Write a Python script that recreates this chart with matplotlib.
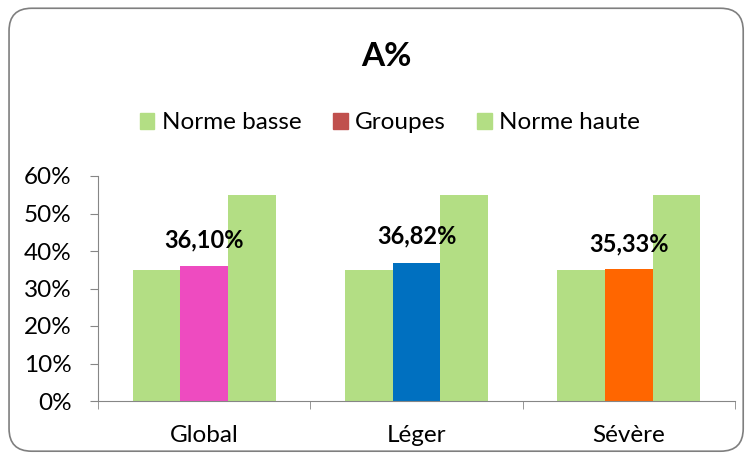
import numpy as np
import matplotlib.pyplot as plt
import matplotlib.patches as mpatches
from matplotlib.patches import FancyBboxPatch

plt.rcParams['font.family'] = ['Lato', 'DejaVu Sans']

categories = ['Global', 'Léger', 'Sévère']
norme_basse = [35, 35, 35]
groupes = [36.10, 36.82, 35.33]
norme_haute = [55, 55, 55]
groupe_colors = ['#EE4BC0', '#0070C0', '#FF6600']
value_labels = ['36,10%', '36,82%', '35,33%']
label_heights = [43, 44, 42]

green = '#B3DE84'
fig = plt.figure(figsize=(7.53, 4.59), dpi=100)

# rounded outer frame like the Excel chart area
frame = FancyBboxPatch((0.012, 0.017), 0.975, 0.965, boxstyle='round,pad=0,rounding_size=0.03',
                       transform=fig.transFigure, facecolor='white', edgecolor='#7F7F7F',
                       linewidth=1.2, mutation_aspect=753 / 459, zorder=-5)
fig.patches.append(frame)

ax = fig.add_axes([98 / 753, 1 - 401 / 459, 637 / 753, 225 / 459])
ax.patch.set_visible(False)
x = np.arange(len(categories))
w = 0.224
ax.bar(x - w, norme_basse, w, color=green, label='Norme basse')
ax.bar(x, groupes, w, color=groupe_colors, label='Groupes')
ax.bar(x + w, norme_haute, w, color=green, label='Norme haute')

for xi, txt, h in zip(x, value_labels, label_heights):
    ax.text(xi, h, txt, ha='center', va='center', fontsize=17, fontweight='bold')

ax.set_xlim(-0.5, 2.5)
ax.set_ylim(0, 60)
ax.set_yticks(range(0, 61, 10))
ax.set_yticklabels([f'{v}%' for v in range(0, 61, 10)])
ax.set_xticks(x)
ax.set_xticklabels(categories)
ax.set_xticks([-0.5, 0.5, 1.5, 2.5], minor=True)
ax.tick_params(axis='x', which='major', length=0, labelsize=17.5, pad=17)
ax.tick_params(axis='x', which='minor', length=6, direction='out', color='#868686')
ax.tick_params(axis='y', length=6, direction='out', color='#868686', labelsize=17.5, pad=13)
for s in ['top', 'right']:
    ax.spines[s].set_visible(False)
for s in ['left', 'bottom']:
    ax.spines[s].set_color('#868686')

# legend: Groupes swatch in the default red
labels = ['Norme basse', 'Groupes', 'Norme haute']
handles = [mpatches.Patch(color=green), mpatches.Patch(color='#C0504D'), mpatches.Patch(color=green)]
fig.legend(handles, labels, loc='center', bbox_to_anchor=(390 / 753, 1 - 123 / 459), ncol=3,
           frameon=False, fontsize=17.5, handlelength=0.6, handleheight=0.6, handletextpad=0.3,
           columnspacing=1.3)

fig.text(386 / 753, 1 - 57 / 459, 'A%', ha='center', va='center', fontsize=24, fontweight='bold')

fig.savefig('out.png', dpi=100)
